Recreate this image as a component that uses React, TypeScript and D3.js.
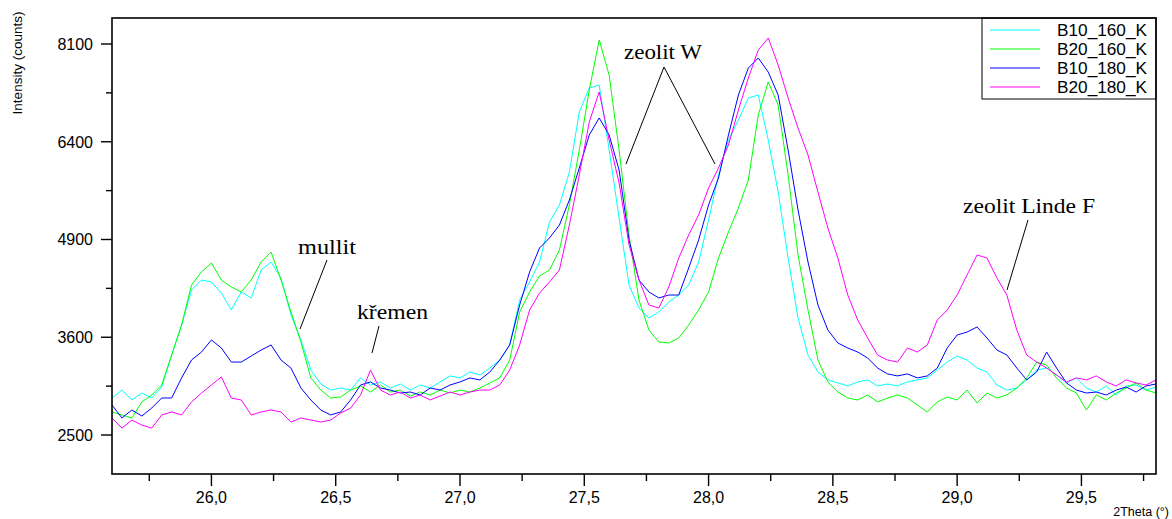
import React from "react";
import * as d3 from "d3";

// 2Theta grid: 25.60 .. 29.80, step 0.04
const START = 25.6;
const STEP = 0.04;

const b10_160 = [2893,2981,2871,2948,2893,3015,3385,3752,4203,4337,
4310,4163,3942,4177,4098,4473,4583,4364,3879,3567,
3209,3049,2981,3004,2981,3118,3038,3072,3004,3049,
2981,3038,3004,3072,3141,3118,3186,3152,3232,3326,
3506,4072,4310,4583,5154,5407,5914,6897,7310,7363,
6266,5214,4270,3968,3840,3917,4046,4137,4270,4583,
5184,5868,6429,6761,7136,7188,6429,5604,4639,3840,
3385,3186,3095,3061,3027,3072,3095,3027,3049,3027,
3072,3095,3118,3209,3302,3373,3326,3232,3186,3038,
2981,3004,3095,3209,3232,3152,3061,3118,3004,2959,
3027,2926,3027,3038,2981,3015];

const b20_160 = [2741,2709,2677,2849,2926,3038,3385,3752,4270,4446,
4569,4337,4243,4177,4337,4583,4722,4337,3917,3543,
3118,2981,2893,2904,2981,3027,2959,3038,2959,2981,
2915,2959,2926,2981,2948,2981,2959,3004,3061,3118,
3326,3917,4177,4391,4473,4751,5407,6266,7275,8174,
7539,6266,4965,4072,3689,3543,3530,3591,3752,3942,
4177,4639,5008,5362,5789,6846,7416,7016,5868,4680,
3942,3326,3072,2959,2893,2871,2926,2849,2893,2926,
2893,2816,2741,2849,2904,2871,2981,2838,2948,2893,
2926,3004,3118,3302,3267,3118,3004,2948,2762,2926,
2871,2948,3004,3061,2981,2948];

const b10_180 = [2816,2677,2762,2698,2784,2893,2893,3118,3326,3421,
3567,3469,3302,3302,3373,3445,3506,3326,3232,3004,
2871,2762,2709,2741,2871,3038,3072,3004,2981,2948,
2959,2926,3004,2981,3038,3072,3118,3095,3186,3326,
3506,4007,4446,4779,4922,5110,5482,5978,6511,6795,
6511,5946,4893,4337,4177,4098,4137,4137,4500,4893,
5407,5821,6511,7188,7664,7844,7592,7188,6266,5332,
4583,4007,3689,3530,3469,3421,3350,3232,3164,3141,
3164,3118,3141,3232,3469,3628,3664,3727,3591,3445,
3385,3232,3095,3186,3421,3232,3061,2981,2948,2959,
2926,2981,3015,2959,3027,3049];

const b20_180 = [2677,2571,2655,2603,2571,2709,2741,2709,2849,2948,
3038,3129,2893,2871,2709,2741,2762,2741,2634,2677,
2655,2634,2655,2730,2784,2926,3209,2981,2926,2959,
2893,2926,2871,2915,2959,2926,2959,2981,2981,3038,
3209,3506,3942,4163,4310,4473,5110,5868,6727,7240,
6429,5743,4822,4337,4007,3968,4243,4639,4965,5258,
5665,5978,6347,6931,7486,7990,8211,7718,7136,6627,
6185,5604,5066,4639,4137,3815,3591,3385,3326,3302,
3469,3421,3506,3815,3942,4137,4405,4680,4639,4364,
4137,3689,3385,3302,3232,3152,3072,3118,3095,3141,
3072,3027,3095,3061,3038,3095];

const seriesNames = ["B10_160_K", "B20_160_K", "B10_180_K", "B20_180_K"];
const seriesValues = [b10_160, b20_160, b10_180, b20_180];
const seriesColors = ["#00FFFF", "#00FF00", "#0000FF", "#FF00FF"];

const yTicks = [2500, 3600, 4900, 6400, 8100];
const yMinorTicks = [3025, 4225, 5625, 7225];
const xTicks = [26.0, 26.5, 27.0, 27.5, 28.0, 28.5, 29.0, 29.5];
const xMinorTicks = [25.75, 26.25, 26.75, 27.25, 27.75, 28.25, 28.75, 29.25, 29.75];

const annotations = [
  { text: "mullit", x: 298, y: 254, w: 58, lines: [[327, 260, 300, 329]] },
  { text: "křemen", x: 357, y: 319, w: 71, lines: [[379, 326, 372, 353]] },
  { text: "zeolit W", x: 624, y: 59, w: 78, lines: [[664, 67, 626, 164], [664, 67, 715, 164]] },
  { text: "zeolit Linde F", x: 963, y: 213, w: 132, lines: [[1028, 220, 1007, 290]] },
];

const W = 1172, H = 519;
const L = 112, R = 1156, T = 18, B = 474;
const SANS = "'Liberation Sans', Arial, Helvetica, sans-serif";
const SERIF = "'Liberation Serif', 'Times New Roman', serif";

export default function App() {
  const x = d3.scaleLinear().domain([START, 29.8]).range([L, R]);
  const y = d3.scaleSqrt().domain([2500, 8100]).range([435, 44]);
  const line = d3
    .line<number>()
    .x((_, i) => x(START + STEP * i))
    .y((d) => y(d));

  return (
    <div style={{ position: "absolute", left: 0, top: 0 }}>
      <svg width={W} height={H} style={{ display: "block", background: "#fff" }}>
        <defs>
          <clipPath id="plotClip">
            <rect x={L} y={T} width={R - L} height={B - T} />
          </clipPath>
        </defs>
        <rect x={0} y={0} width={W} height={H} fill="#fff" />
        <g clipPath="url(#plotClip)">
          {seriesValues.map((vals, k) => (
            <path key={k} d={line(vals) || ""} fill="none" stroke={seriesColors[k]} strokeWidth={1} />
          ))}
        </g>

        {/* annotations */}
        {annotations.map((a, k) => (
          <g key={k}>
            <text x={a.x} y={a.y} fontFamily={SERIF} fontSize={20} fill="#000" textLength={a.w} lengthAdjust="spacingAndGlyphs">
              {a.text}
            </text>
            {a.lines.map((l, j) => (
              <line key={j} x1={l[0]} y1={l[1]} x2={l[2]} y2={l[3]} stroke="#000" strokeWidth={1} />
            ))}
          </g>
        ))}

        {/* legend */}
        <rect x={982} y={T} width={R - 982} height={81} fill="#fff" stroke="#000" strokeWidth={1} />
        {seriesNames.map((n, k) => {
          const ly = 30 + k * 19;
          return (
            <g key={n}>
              <line x1={990} x2={1040} y1={ly} y2={ly} stroke={seriesColors[k]} strokeWidth={1} />
              <text x={1057} y={ly} dy="0.36em" fontFamily={SANS} fontSize={16} fill="#000" textLength={90} lengthAdjust="spacingAndGlyphs">
                {n}
              </text>
            </g>
          );
        })}

        {/* frame */}
        <rect x={L} y={T} width={R - L} height={B - T} fill="none" stroke="#000" strokeWidth={1.6} />

        {/* y ticks */}
        {yTicks.map((t) => (
          <g key={t}>
            <line x1={L - 11} x2={L} y1={y(t)} y2={y(t)} stroke="#000" strokeWidth={1.4} />
            <text x={93} y={y(t)} dy="0.36em" textAnchor="end" fontFamily={SANS} fontSize={16} fill="#000">
              {t}
            </text>
          </g>
        ))}
        {yMinorTicks.map((t) => (
          <line key={t} x1={L - 6} x2={L} y1={y(t)} y2={y(t)} stroke="#000" strokeWidth={1.4} />
        ))}

        {/* x ticks */}
        {xTicks.map((t) => (
          <g key={t}>
            <line x1={x(t)} x2={x(t)} y1={B} y2={B + 12} stroke="#000" strokeWidth={1.4} />
            <text x={x(t)} y={503} textAnchor="middle" fontFamily={SANS} fontSize={16} fill="#000">
              {t.toFixed(1).replace(".", ",")}
            </text>
          </g>
        ))}
        {xMinorTicks.map((t) => (
          <line key={t} x1={x(t)} x2={x(t)} y1={B} y2={B + 7} stroke="#000" strokeWidth={1.4} />
        ))}

        {/* axis titles */}
        <text x={1169} y={516} textAnchor="end" fontFamily={SANS} fontSize={12.5} fill="#000">
          2Theta (°)
        </text>
        <text transform="translate(22,63) rotate(-90)" textAnchor="middle" fontFamily={SANS} fontSize={13.5} fill="#000">
          Intensity (counts)
        </text>
      </svg>
    </div>
  );
}
